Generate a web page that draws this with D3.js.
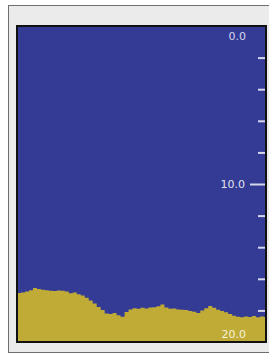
<!DOCTYPE html>
<html>
<head>
<meta charset="utf-8">
<script src="https://cdn.jsdelivr.net/npm/d3@7"></script>
<style>
  html, body { margin: 0; padding: 0; background: #ffffff; }
  svg { display: block; }
</style>
</head>
<body>
<svg id="chart" width="269" height="357"></svg>
<script>
// bottom depth per ping
var depth = [16.90, 16.86, 16.80, 16.72, 16.58, 16.64, 16.70, 16.72, 16.76, 16.78,
    16.74, 16.76, 16.80, 16.92, 16.86, 16.98, 17.06, 17.20, 17.38, 17.56,
    17.78, 17.98, 18.20, 18.22, 18.16, 18.30, 18.40, 18.10, 17.94, 17.86,
    17.90, 17.84, 17.88, 17.82, 17.80, 17.74, 17.62, 17.82, 17.90, 17.88,
    17.94, 17.96, 17.98, 18.04, 18.08, 18.16, 18.00, 17.86, 17.72, 17.84,
    17.96, 18.04, 18.12, 18.22, 18.34, 18.40, 18.44, 18.38, 18.42, 18.36,
    18.44, 18.38, 18.42, 18.40];
var minorTicks = [2, 4, 6, 8, 12, 14, 16, 18];
var majorTicks = [10];
var edgeLabels = [0, 20];

var svg = d3.select("#chart");

var plot = {
    "x": 17,
    "y": 26,
    "w": 249,
    "h": 316
};

// outer grey panel
svg.append("rect")
    .attr("x", 8.5)
    .attr("y", 5.5)
    .attr("width", 270)
    .attr("height", 347)
    .attr("fill", "#ebebeb")
    .attr("stroke", "#6e6e6e");

svg.append("clipPath")
    .attr("id", "clip")
    .append("rect")
    .attr("x", plot.x)
    .attr("y", plot.y)
    .attr("width", plot.w)
    .attr("height", plot.h);

var xScale = d3.scaleLinear()
    .domain([0, depth.length - 1.5])
    .range([plot.x, plot.x + plot.w]);

var yScale = d3.scaleLinear()
    .domain([0, 20])
    .range([plot.y, plot.y + plot.h]);

var g = svg.append("g").attr("clip-path", "url(#clip)");

// water column
g.append("rect")
    .attr("x", plot.x)
    .attr("y", plot.y)
    .attr("width", plot.w)
    .attr("height", plot.h)
    .attr("fill", "#333b95");

// sea bottom
var area = d3.area()
    .x(function (d, i) { return xScale(i); })
    .y0(yScale(20) + 5)
    .y1(function (d) { return yScale(d); })
    .curve(d3.curveStepAfter);

g.append("path")
    .datum(depth)
    .attr("d", area)
    .attr("fill", "#c1ab37");

// depth axis on the right edge
var axisX = plot.x + plot.w - 1;

svg.append("g")
    .attr("transform", "translate(" + axisX + ",0)")
    .call(d3.axisLeft(yScale).tickValues(minorTicks).tickSize(7).tickFormat(""))
    .call(function (a) {
        a.select(".domain").remove();
        a.selectAll("line").attr("stroke", "#d6d8ea").attr("stroke-width", 2);
    });

svg.append("g")
    .attr("transform", "translate(" + axisX + ",0)")
    .call(d3.axisLeft(yScale).tickValues(majorTicks).tickSize(15).tickPadding(5).tickFormat(d3.format(".1f")))
    .call(function (a) {
        a.select(".domain").remove();
        a.selectAll("line").attr("stroke", "#d6d8ea").attr("stroke-width", 2);
        a.selectAll("text")
            .attr("fill", "#e2e3ef")
            .style("font-family", "DejaVu Sans, sans-serif")
            .style("font-size", "11px");
    });

svg.selectAll("text.edge")
    .data(edgeLabels)
    .enter()
    .append("text")
    .attr("class", "edge")
    .attr("x", 246)
    .attr("y", function (d, i) {
        return i == 0 ? yScale(d) + 14 : yScale(d) - 4;
    })
    .attr("text-anchor", "end")
    .attr("fill", function (d, i) { return i == 0 ? "#d6d8ea" : "#f4f1dc"; })
    .style("font-family", "DejaVu Sans, sans-serif")
    .style("font-size", "11px")
    .text(function (d) { return d3.format(".1f")(d); });

// plot frame
svg.append("rect")
    .attr("x", plot.x)
    .attr("y", plot.y)
    .attr("width", plot.w)
    .attr("height", plot.h)
    .attr("fill", "none")
    .attr("stroke", "#111")
    .attr("stroke-width", 2);
</script>
</body>
</html>
